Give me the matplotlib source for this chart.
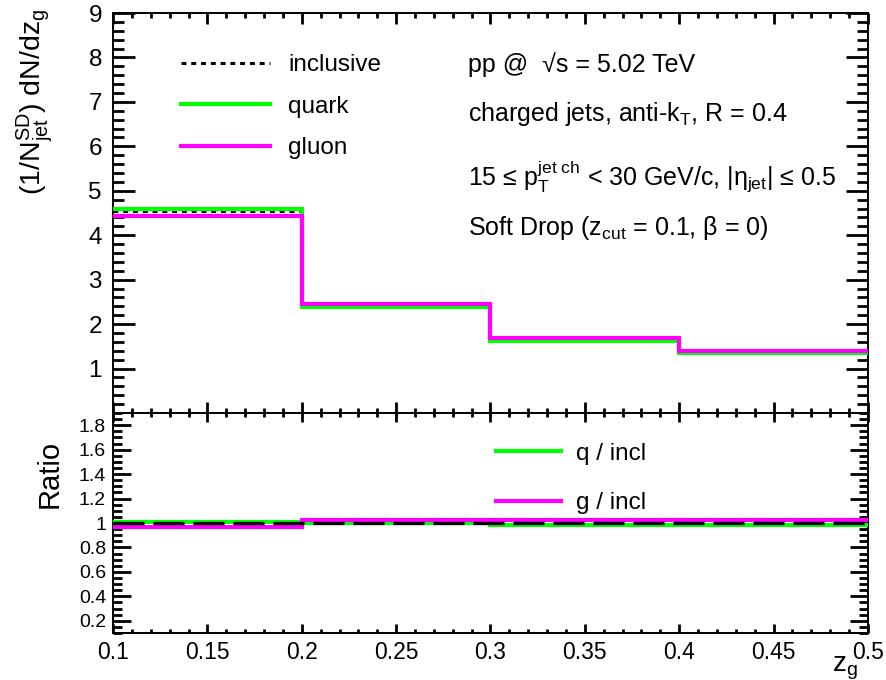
import matplotlib
matplotlib.use("Agg")
import matplotlib.pyplot as plt
from matplotlib.ticker import MultipleLocator, FixedLocator, FuncFormatter
from matplotlib.lines import Line2D

plt.rcParams['font.family'] = ['Liberation Sans', 'DejaVu Sans']
plt.rcParams['mathtext.fontset'] = 'custom'
plt.rcParams['mathtext.rm'] = 'Liberation Sans'
plt.rcParams['mathtext.it'] = 'Liberation Sans'
plt.rcParams['mathtext.bf'] = 'Liberation Sans'
plt.rcParams['mathtext.sf'] = 'Liberation Sans'

# ---- data ----
bin_edges = [0.1, 0.2, 0.3, 0.4, 0.5]
inclusive = [4.55, 2.41, 1.66, 1.37]
quark = [4.60, 2.39, 1.62, 1.35]
gluon = [4.43, 2.45, 1.69, 1.40]
q_ratio = [1.01, 1.00, 0.985, 0.985]
g_ratio = [0.97, 1.025, 1.025, 1.025]
incl_ratio = [1.0, 1.0, 1.0, 1.0]

xticks = [0.1, 0.15, 0.2, 0.25, 0.3, 0.35, 0.4, 0.45, 0.5]
top_yticks = [1, 2, 3, 4, 5, 6, 7, 8, 9]
bot_yticks = [0.2, 0.4, 0.6, 0.8, 1.0, 1.2, 1.4, 1.6, 1.8]

GREEN = '#00ff00'
MAGENTA = '#ff00ff'

W, H = 887, 680
fig = plt.figure(figsize=(W / 100, H / 100), dpi=100)
x0, x1 = 113, 868
AXW = x1 - x0
TOPH, BOTH = 400, 220
ax1 = fig.add_axes([x0 / W, 1 - 413 / H, AXW / W, TOPH / H])
ax2 = fig.add_axes([x0 / W, 1 - 633 / H, AXW / W, BOTH / H])

# ---- top panel ----
ax1.stairs(inclusive, bin_edges, baseline=None, color='black', lw=2.2,
           linestyle=(0, (1.6, 1.6)), zorder=2)
ax1.stairs(quark, bin_edges, baseline=None, color=GREEN, lw=3.0, zorder=3)
ax1.stairs(gluon, bin_edges, baseline=None, color=MAGENTA, lw=3.0, zorder=4)
ax1.set_xlim(0.1, 0.5)
ax1.set_ylim(0, 9)

# ---- bottom panel ----
ax2.stairs(q_ratio, bin_edges, baseline=None, color=GREEN, lw=3.0, zorder=3)
ax2.stairs(g_ratio, bin_edges, baseline=None, color=MAGENTA, lw=3.0, zorder=4)
ax2.stairs(incl_ratio, bin_edges, baseline=None, color='black', lw=2.4,
           linestyle=(0, (9.3, 2.7)), zorder=5)
ax2.set_xlim(0.1, 0.5)
ax2.set_ylim(0.1, 1.9)

for ax in (ax1, ax2):
    for s in ax.spines.values():
        s.set_linewidth(1.4)
    ax.xaxis.set_major_locator(FixedLocator(xticks))
    ax.xaxis.set_minor_locator(MultipleLocator(0.01))

ax1.yaxis.set_major_locator(FixedLocator(top_yticks))
ax1.yaxis.set_minor_locator(MultipleLocator(0.2))
ax2.yaxis.set_major_locator(FixedLocator(bot_yticks))
ax2.yaxis.set_minor_locator(MultipleLocator(0.05))
ax2.yaxis.set_major_formatter(FuncFormatter(lambda v, p: '%g' % round(v, 2)))
ax2.xaxis.set_major_formatter(FuncFormatter(lambda v, p: '%g' % round(v, 3)))

TW = 2.0
ax1.tick_params(direction='in', length=15.8, width=TW, color='k')
ax1.tick_params(axis='y', labelsize=17.5, pad=8, right=True)
ax1.tick_params(axis='x', length=7.9, labelbottom=False, top=True)
ax1.tick_params(which='minor', direction='in', length=7.9, width=TW, color='k',
                right=True, top=True)
ax1.tick_params(axis='x', which='minor', length=3.6)

ax2.tick_params(direction='in', length=13, width=TW, color='k')
ax2.tick_params(axis='y', labelsize=14, pad=5, right=True)
ax2.tick_params(axis='x', length=6.5, labelsize=16.5, pad=6, top=True)
ax2.tick_params(which='minor', direction='in', length=6.5, width=TW, color='k',
                right=True, top=True)
ax2.tick_params(axis='x', which='minor', length=3.2)

# ---- axis titles ----
fig.text(35 / W, 1 - 8 / H, r'(1/N$_{jet}^{SD}$) dN/dz$_{g}$', rotation=90,
         ha='center', va='top', fontsize=20.5)
fig.text(50 / W, 1 - 440 / H, 'Ratio', rotation=90, ha='center', va='top', fontsize=21)
fig.text(858 / W, 1 - 671 / H, r'z$_{g}$', ha='right', va='baseline', fontsize=20)

# ---- annotations ----
tx0 = 468 / W
FS = 18
fig.text(tx0, 1 - 72 / H, 'pp @  √s = 5.02 TeV', fontsize=FS, va='baseline')
fig.text(tx0, 1 - 121 / H, r'charged jets, anti-k$_{T}$, R = 0.4', fontsize=FS, va='baseline')
fig.text(tx0, 1 - 186 / H, r'15 ≤ p$_{T}^{jet\ ch}$ < 30 GeV/c, |$\eta_{jet}$| ≤ 0.5',
         fontsize=FS, va='baseline')
fig.text(tx0, 1 - 235 / H, r'Soft Drop (z$_{cut}$ = 0.1, $\beta$ = 0)', fontsize=FS, va='baseline')

# ---- legends ----
LFS = 17.5
h_top = [Line2D([], [], color='black', lw=2.2, linestyle=(0, (1.6, 1.6))),
         Line2D([], [], color=GREEN, lw=3.0),
         Line2D([], [], color=MAGENTA, lw=3.0)]
leg1 = ax1.legend(h_top, ['inclusive', 'quark', 'gluon'], loc='upper left',
                  bbox_to_anchor=(174 / W, 1 - 47 / H), bbox_transform=fig.transFigure,
                  frameon=False, fontsize=LFS, handlelength=3.65, handletextpad=0.75,
                  labelspacing=0.8, borderpad=0.3, borderaxespad=0)

h_bot = [Line2D([], [], color=GREEN, lw=3.0), Line2D([], [], color=MAGENTA, lw=3.0)]
leg2 = ax2.legend(h_bot, ['q / incl', 'g / incl'], loc='upper left',
                  bbox_to_anchor=(491 / W, 1 - 438 / H), bbox_transform=fig.transFigure,
                  frameon=False, fontsize=LFS, handlelength=2.7, handletextpad=0.6,
                  labelspacing=1.12, borderpad=0.2, borderaxespad=0)

fig.savefig('out.png', dpi=100)
